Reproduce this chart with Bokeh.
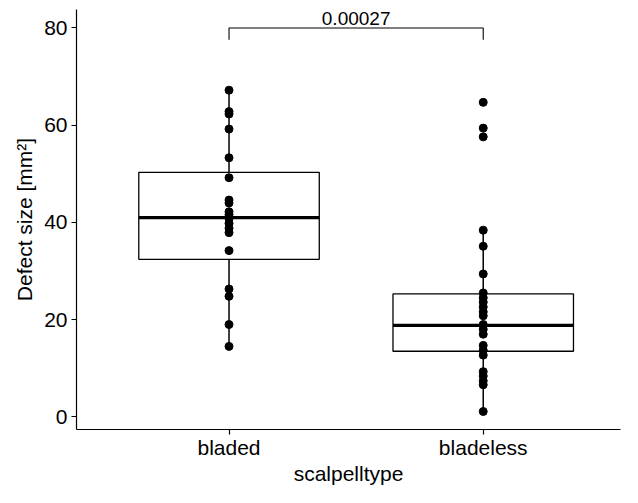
from bokeh.plotting import figure
from bokeh.models import Range1d, FixedTicker, ColumnDataSource
from bokeh.core.properties import value
from bokeh.embed import file_html
from bokeh.resources import INLINE

# ---- data ----
groups = ["bladed", "bladeless"]
bladed = [67.2, 62.8, 62.3, 59.2, 53.3, 49.2, 44.6, 44.0, 42.2, 41.6, 40.8,
          39.8, 38.8, 37.9, 34.2, 26.3, 24.8, 19.0, 14.5]
bladeless = [64.7, 59.4, 57.6, 38.4, 35.1, 29.4, 25.5, 24.5, 23.6, 22.6, 21.6,
             20.8, 19.0, 18.0, 17.0, 14.7, 13.7, 12.7, 9.3, 8.4, 7.4, 6.6, 1.1]
q1 = [32.4, 13.5]
median = [41.0, 18.8]
q3 = [50.3, 25.3]
whisker_lo = [14.5, 1.1]
whisker_hi = [67.2, 38.5]
y_ticks = [0, 20, 40, 60, 80]
p_label = "0.00027"
bracket_y = 80.0
bracket_tip = 77.6

FONT = "Liberation Sans"
BOX_W = 0.71

# discrete positions of the categories (1, 2, ...) as in a discrete scale
pos = [i + 1 for i in range(len(groups))]

p = figure(width=622, height=487, output_backend="svg", toolbar_location=None,
           x_range=Range1d(0.4, 2.54),
           y_range=Range1d(-2.6, 83.8),
           min_border_left=76, min_border_right=2, min_border_top=9,
           min_border_bottom=56)
p.outline_line_color = None
p.xgrid.visible = False
p.ygrid.visible = False
p.background_fill_color = "white"

box_src = ColumnDataSource(dict(
    x=pos, q1=q1, med=median, q3=q3, lo=whisker_lo, hi=whisker_hi,
    xl=[x - BOX_W / 2 for x in pos], xr=[x + BOX_W / 2 for x in pos]))

# whiskers
p.segment(x0="x", x1="x", y0="q3", y1="hi", source=box_src,
          line_color="black", line_width=1.5)
p.segment(x0="x", x1="x", y0="lo", y1="q1", source=box_src,
          line_color="black", line_width=1.5)
# boxes
p.vbar(x="x", bottom="q1", top="q3", width=BOX_W, source=box_src,
       fill_color="white", line_color="black", line_width=1.3)
# medians
p.segment(x0="xl", x1="xr", y0="med", y1="med", source=box_src,
          line_color="black", line_width=3.2)

# points
xs = [pos[0]] * len(bladed) + [pos[1]] * len(bladeless)
ys = bladed + bladeless
p.scatter(x=xs, y=ys, size=8, fill_color="black", line_color="black")

# significance bracket
p.line(x=[pos[0], pos[0], pos[1], pos[1]],
       y=[bracket_tip, bracket_y, bracket_y, bracket_tip],
       line_color="black", line_width=1.1)
p.text(x=[(pos[0] + pos[1]) / 2], y=[bracket_y], text=[p_label],
       y_offset=-3, text_align="center", text_baseline="bottom",
       text_font=value(FONT), text_font_size="19px", text_color="black")

# axes styling
for ax in (p.xaxis[0], p.yaxis[0]):
    ax.axis_line_color = "black"
    ax.axis_line_width = 1.2
    ax.major_tick_line_color = "black"
    ax.major_tick_line_width = 1.2
    ax.major_tick_out = 5
    ax.major_tick_in = 0
    ax.minor_tick_line_color = None
    ax.major_label_text_font = FONT
    ax.major_label_text_font_size = "21px"
    ax.major_label_text_color = "black"
    ax.axis_label_text_font = FONT
    ax.axis_label_text_font_size = "21px"
    ax.axis_label_text_font_style = "normal"
    ax.axis_label_text_color = "black"

p.yaxis.ticker = FixedTicker(ticks=y_ticks)
p.yaxis.axis_label = "Defect size [mm²]"
p.yaxis.major_label_standoff = 4
p.yaxis.axis_label_standoff = 5
p.xaxis.ticker = FixedTicker(ticks=pos)
p.xaxis.major_label_overrides = {x: g for x, g in zip(pos, groups)}
p.xaxis.axis_label = "scalpelltype"
p.xaxis.major_label_standoff = 1
p.xaxis.axis_label_standoff = 0

open("out.html", "w").write(file_html(p, INLINE))
